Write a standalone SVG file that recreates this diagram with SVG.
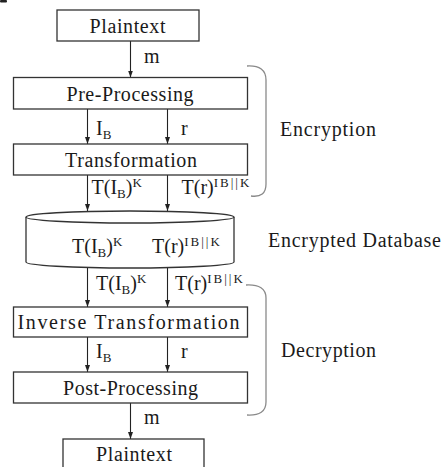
<svg xmlns="http://www.w3.org/2000/svg" width="442" height="467" viewBox="0 0 442 467">
  <defs>
    <marker id="arrow" viewBox="0 0 7 6" refX="7" refY="3" markerWidth="7" markerHeight="6" markerUnits="userSpaceOnUse" orient="auto">
      <path d="M0,0.5 L7,3 L0,5.5 Z" fill="#222"/>
    </marker>
    <style>
      .box { fill: #fff; stroke: #333; stroke-width: 1.3; }
      .lbl { font-family: "Liberation Serif", "Times New Roman", serif; font-size: 20px; fill: #1a1a1a; }
      .mid { text-anchor: middle; }
      .edge { stroke: #222; stroke-width: 1.1; fill: none; marker-end: url(#arrow); }
      .brace { stroke: #8a8a8a; stroke-width: 1.3; fill: none; }
      .sub { font-size: 13px; }
      .sup { font-size: 13px; }
      .key { font-size: 13px; letter-spacing: 2px; }
    </style>
  </defs>
  <rect width="442" height="467" fill="#fff"/>
  <rect x="0" y="0" width="7" height="2.5" rx="1" fill="#222"/>

  <!-- arrows between stages and the two phase brackets -->
  <g id="connectors">
    <line class="edge" x1="130.5" y1="41" x2="130.5" y2="77.5"/>
    <line class="edge" x1="87.5" y1="109" x2="87.5" y2="144"/>
    <line class="edge" x1="167.5" y1="109" x2="167.5" y2="144"/>
    <line class="edge" x1="87.5" y1="175" x2="87.5" y2="211"/>
    <line class="edge" x1="167.5" y1="175" x2="167.5" y2="211"/>
    <line class="edge" x1="87.5" y1="265" x2="87.5" y2="307"/>
    <line class="edge" x1="167.5" y1="267" x2="167.5" y2="307"/>
    <line class="edge" x1="87.5" y1="337" x2="87.5" y2="372"/>
    <line class="edge" x1="167.5" y1="337" x2="167.5" y2="372"/>
    <line class="edge" x1="130.5" y1="403" x2="130.5" y2="439"/>
    <path class="brace" d="M247,66 Q266,65 266,80 L266,184 Q266,198 251,196"/>
    <path class="brace" d="M246,285 Q266,284 266,298 L266,402 Q266,416 247,415"/>
  </g>

  <!-- values carried along the arrows -->
  <g id="edge-labels" class="lbl">
    <text x="144" y="63">m</text>
    <text x="96" y="135">I<tspan class="sub" dy="4">B</tspan></text>
    <text x="181" y="135">r</text>
    <text x="91.5" y="194">T(I<tspan class="sub" dy="4">B</tspan><tspan dy="-4">)</tspan><tspan class="sup" dy="-7">K</tspan></text>
    <text x="181.5" y="194">T(r)<tspan class="key" dy="-7">IB||K</tspan></text>
    <text x="96" y="290">T(I<tspan class="sub" dy="4">B</tspan><tspan dy="-4">)</tspan><tspan class="sup" dy="-7">K</tspan></text>
    <text x="175" y="290">T(r)<tspan class="key" dy="-7">IB||K</tspan></text>
    <text x="96" y="358">I<tspan class="sub" dy="4">B</tspan></text>
    <text x="181" y="358">r</text>
    <text x="144" y="424">m</text>
  </g>

  <g id="plaintext-in">
    <rect class="box" x="57" y="10" width="142" height="31"/>
    <text class="lbl mid" x="127.5" y="32.5" textLength="76" lengthAdjust="spacing">Plaintext</text>
  </g>
  <g id="pre-processing">
    <rect class="box" x="13.5" y="77.5" width="234" height="31.5"/>
    <text class="lbl mid" x="130" y="100.5" textLength="127" lengthAdjust="spacing">Pre-Processing</text>
  </g>
  <g id="transformation">
    <rect class="box" x="13.5" y="144" width="234" height="31"/>
    <text class="lbl mid" x="131" y="166.5" textLength="132" lengthAdjust="spacing">Transformation</text>
  </g>
  <g id="database">
    <path class="box" d="M26,217 L26,262 A104,6 0 0 0 234,262 L234,217"/>
    <ellipse class="box" cx="130" cy="217" rx="104" ry="6"/>
    <text class="lbl" x="72" y="253">T(I<tspan class="sub" dy="4">B</tspan><tspan dy="-4">)</tspan><tspan class="sup" dy="-7">K</tspan></text>
    <text class="lbl" x="152" y="253">T(r)<tspan class="key" dy="-7">IB||K</tspan></text>
  </g>
  <g id="inverse-transformation">
    <rect class="box" x="13.5" y="307" width="234" height="30"/>
    <text class="lbl mid" x="128.5" y="329" textLength="222" lengthAdjust="spacing">Inverse Transformation</text>
  </g>
  <g id="post-processing">
    <rect class="box" x="13.5" y="372" width="234" height="31"/>
    <text class="lbl mid" x="130.5" y="394.5" textLength="135" lengthAdjust="spacing">Post-Processing</text>
  </g>
  <g id="plaintext-out">
    <rect class="box" x="63" y="439" width="141" height="34"/>
    <text class="lbl mid" x="134" y="460.5" textLength="76" lengthAdjust="spacing">Plaintext</text>
  </g>

  <!-- phase names beside the brackets -->
  <g id="phase-labels" class="lbl">
    <text x="280" y="136" textLength="96" lengthAdjust="spacing">Encryption</text>
    <text x="268" y="247" textLength="173" lengthAdjust="spacing">Encrypted Database</text>
    <text x="281" y="357" textLength="95" lengthAdjust="spacing">Decryption</text>
  </g>
</svg>
